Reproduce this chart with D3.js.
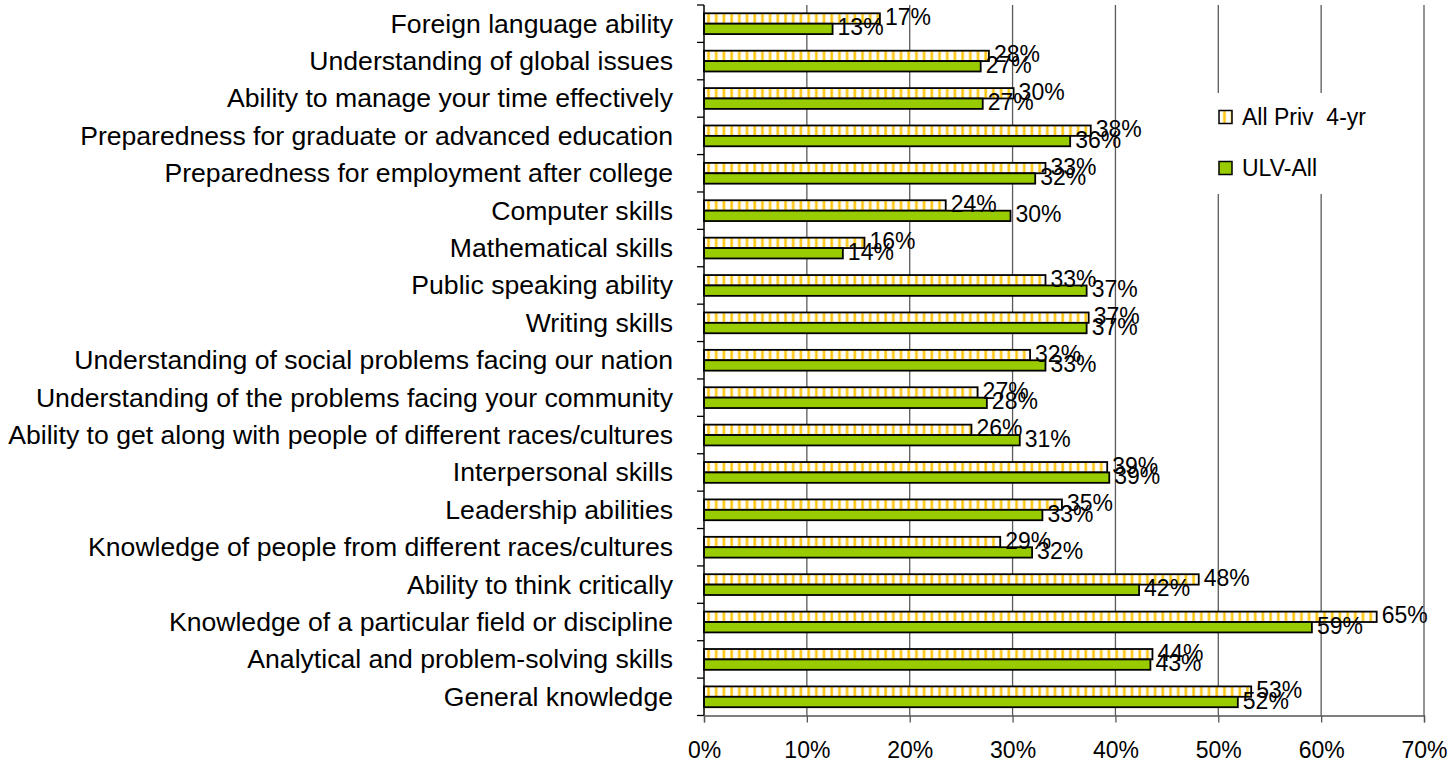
<!DOCTYPE html>
<html>
<head>
<meta charset="utf-8">
<script src="https://cdn.jsdelivr.net/npm/d3@7"></script>
<style>
  html, body { margin: 0; padding: 0; background: #fff; }
  svg { display: block; font-family: "Liberation Sans", Arial, sans-serif; }
</style>
</head>
<body>
<svg id="chart" width="1455" height="764"></svg>
<script>
const categories = [
  "Foreign language ability",
  "Understanding of global issues",
  "Ability to manage your time effectively",
  "Preparedness for graduate or advanced education",
  "Preparedness for employment after college",
  "Computer skills",
  "Mathematical skills",
  "Public speaking ability",
  "Writing skills",
  "Understanding of social problems facing our nation",
  "Understanding of the problems facing your community",
  "Ability to get along with people of different races/cultures",
  "Interpersonal skills",
  "Leadership abilities",
  "Knowledge of people from different races/cultures",
  "Ability to think critically",
  "Knowledge of a particular field or discipline",
  "Analytical and problem-solving skills",
  "General knowledge"
];
const seriesNames = ["All Priv  4-yr", "ULV-All"];
const allPriv = [0.171, 0.277, 0.301, 0.376, 0.332, 0.235, 0.156, 0.332, 0.374, 0.317, 0.266, 0.260, 0.392, 0.348, 0.288, 0.481, 0.654, 0.436, 0.532];
const ulvAll  = [0.125, 0.269, 0.271, 0.356, 0.322, 0.298, 0.135, 0.372, 0.372, 0.332, 0.275, 0.307, 0.394, 0.329, 0.319, 0.423, 0.591, 0.434, 0.519];
const xTicks = [0, 0.1, 0.2, 0.3, 0.4, 0.5, 0.6, 0.7];

const svg = d3.select("#chart");
const pLeft = 704, pRight = 1424, pTop = 5, pBottom = 715.5;

const x = d3.scaleLinear().domain([0, 0.7]).range([pLeft, pRight]);
const y = d3.scaleBand().domain(categories).range([pTop, pBottom]).paddingInner(0.444).paddingOuter(0.222);
const yInner = d3.scaleBand().domain(seriesNames).range([0, y.bandwidth()]).padding(0);

// hatch pattern
const defs = svg.append("defs");
const pat = defs.append("pattern").attr("id", "hatch").attr("patternUnits", "userSpaceOnUse")
  .attr("x", pLeft).attr("y", 0).attr("width", 7.7).attr("height", 10);
pat.append("rect").attr("width", 7.7).attr("height", 10).attr("fill", "#fff");
pat.append("rect").attr("x", 3).attr("width", 3).attr("height", 10).attr("fill", "#ffd84a");
pat.append("rect").attr("x", 4).attr("width", 1.2).attr("height", 10).attr("fill", "#ffbf00");

// gridlines
svg.append("g").selectAll("line").data(xTicks.slice(1)).join("line")
  .attr("x1", d => x(d)).attr("x2", d => x(d))
  .attr("y1", pTop).attr("y2", pBottom)
  .attr("stroke", "#5a5a5a").attr("stroke-width", 1.3);

// bars
const rows = categories.map((c, i) => ({c, vals: [allPriv[i], ulvAll[i]]}));
const g = svg.append("g");
rows.forEach(r => {
  r.vals.forEach((v, j) => {
    const s = seriesNames[j];
    const y0 = y(r.c) + yInner(s);
    g.append("rect")
      .attr("x", x(0)).attr("y", y0)
      .attr("width", x(v) - x(0)).attr("height", yInner.bandwidth())
      .attr("fill", j === 0 ? "url(#hatch)" : "#99cc00")
      .attr("stroke", "#000").attr("stroke-width", 1.8);
  });
});
// labels
rows.forEach(r => {
  r.vals.forEach((v, j) => {
    const s = seriesNames[j];
    const yc = y(r.c) + yInner(s) + yInner.bandwidth() / 2 - 1.5;
    g.append("text")
      .attr("x", x(v) + 5).attr("y", yc)
      .attr("dominant-baseline", "central")
      .attr("font-size", 23).attr("fill", "#000")
      .text(Math.round(v * 100) + "%");
  });
});

// y axis
const step = y.step();
const boundaries = categories.map(c => y(c) - (step - y.bandwidth()) / 2).concat([pBottom]);
svg.append("line").attr("x1", pLeft).attr("x2", pLeft).attr("y1", pTop).attr("y2", pBottom)
  .attr("stroke", "#000").attr("stroke-width", 1.5);
svg.append("g").selectAll("line").data(boundaries).join("line")
  .attr("x1", pLeft - 7).attr("x2", pLeft).attr("y1", d => d).attr("y2", d => d)
  .attr("stroke", "#000").attr("stroke-width", 1.3);
svg.append("g").selectAll("text").data(categories).join("text")
  .attr("x", 673).attr("y", d => y(d) + y.bandwidth() / 2)
  .attr("text-anchor", "end").attr("dominant-baseline", "central")
  .attr("font-size", 26.6).attr("fill", "#000")
  .text(d => d);

// x axis
const xAxis = d3.axisBottom(x).tickValues(xTicks).tickFormat(d3.format(".0%")).tickSize(7).tickPadding(19);
const ax = svg.append("g").attr("transform", `translate(0,${pBottom})`).call(xAxis);
ax.select(".domain").attr("stroke", "#555").attr("stroke-width", 1.3);
ax.selectAll(".tick line").attr("stroke", "#555").attr("stroke-width", 1.3);
ax.selectAll(".tick text").attr("font-size", 23).attr("font-family", "Liberation Sans, Arial, sans-serif").attr("fill", "#000");

// legend
const lg = svg.append("g");
lg.append("rect").attr("x", 1205).attr("y", 93).attr("width", 175).attr("height", 101).attr("fill", "#fff");
seriesNames.forEach((s, i) => {
  const cy = 117 + i * 51;
  lg.append("rect").attr("x", 1219).attr("y", cy - 6.5).attr("width", 13).attr("height", 13)
    .attr("fill", i === 0 ? "url(#hatch)" : "#99cc00").attr("stroke", "#000").attr("stroke-width", 1.5);
  lg.append("text").attr("x", 1242).attr("y", cy).attr("dominant-baseline", "central")
    .attr("font-size", 23).style("white-space", "pre").text(s);
});
</script>
</body>
</html>
